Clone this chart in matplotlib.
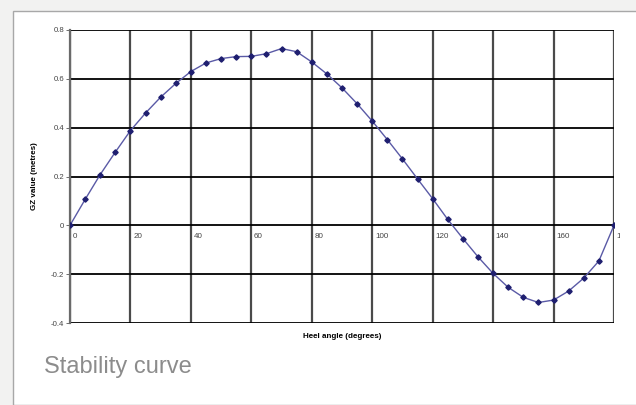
import matplotlib

matplotlib.use("Agg")
import matplotlib.pyplot as plt
from matplotlib.patches import Rectangle
from matplotlib.transforms import Bbox, TransformedBbox

plt.rcParams["font.family"] = ["Liberation Sans", "DejaVu Sans"]

# heel angle (degrees) and GZ (metres)
heel_angle = [0, 5, 10, 15, 20, 25, 30, 35, 40, 45, 50, 55, 60, 65, 70, 75, 80, 85, 90,
              95, 100, 105, 110, 115, 120, 125, 130, 135, 140, 145, 150, 155, 160, 165,
              170, 175, 180]
gz_value = [0.0, 0.106, 0.208, 0.300, 0.388, 0.460, 0.525, 0.581, 0.630, 0.665, 0.683,
            0.691, 0.692, 0.703, 0.724, 0.711, 0.669, 0.620, 0.563, 0.498, 0.427, 0.351,
            0.272, 0.190, 0.109, 0.024, -0.054, -0.129, -0.197, -0.254, -0.295, -0.316,
            -0.306, -0.269, -0.216, -0.146, 0.0]
x_ticks = [0, 20, 40, 60, 80, 100, 120, 140, 160, 180]
y_ticks = [-0.4, -0.2, 0, 0.2, 0.4, 0.6, 0.8]
y_tick_labels = ["-0.4", "-0.2", "0", "0.2", "0.4", "0.6", "0.8"]

fig = plt.figure(figsize=(6.36, 4.05), dpi=100)
fig.patch.set_facecolor("#f2f2f1")

# white card with grey border on top/left
card = Rectangle((13 / 636, 0), 1, 1 - 10.5 / 405, transform=fig.transFigure,
                 facecolor="white", edgecolor="#a8a8a8", linewidth=1.0, zorder=-10)
fig.patches.append(card)

ax = fig.add_axes([70 / 636, 82 / 405, 544 / 636, 293 / 405])
ax.set_facecolor("white")
ax.set_xlim(0, 180)
ax.set_ylim(-0.4, 0.8)

for x in x_ticks:
    ax.axvline(x, color="#4a4a4a", linewidth=1.6, zorder=1)
for y in y_ticks:
    ax.axhline(y, color="black", linewidth=1.3, zorder=1)

ax.plot(heel_angle, gz_value, color="#5a5aa6", linewidth=1.0, zorder=3)
ax.plot(heel_angle, gz_value, linestyle="none", marker="D", markersize=2.7,
        color="#1f1f70", zorder=4)

for side in ["top", "right", "bottom"]:
    ax.spines[side].set_visible(False)
ax.spines["left"].set_color("#6a6a6a")
ax.spines["left"].set_linewidth(1.6)

ax.set_xticks([])
ax.set_yticks(y_ticks)
ax.set_yticklabels(y_tick_labels)
ax.tick_params(axis="y", length=3, width=0.6, color="#555555", labelsize=5.6,
               labelcolor="#444444", pad=1)

# x labels sit along the zero line, just right of each gridline;
# the last one is cut off at the picture's edge like in the source image
clip = TransformedBbox(Bbox([[0, 0], [620 / 636, 1]]), fig.transFigure)
for x in x_ticks:
    t = ax.text(x + 0.9, -0.03, str(x), fontsize=5.8, color="#444444", ha="left",
                va="top", transform=ax.transData, zorder=5)
    t.set_clip_path(None)
    t.set_clip_box(clip)
    t.set_clip_on(True)

ax.set_ylabel("GZ value (metres)", fontsize=5.8, fontweight="bold")
ax.yaxis.set_label_coords(-32 / 544, 0.5)
fig.text(342 / 636, 1 - 337 / 405, "Heel angle (degrees)", fontsize=5.8,
         fontweight="bold", ha="center", va="center")

fig.text(44 / 636, 1 - 367 / 405, "Stability curve", fontsize=17, color="#8c8c8c",
         ha="left", va="center")

fig.savefig("out.png", dpi=100, facecolor=fig.get_facecolor())
